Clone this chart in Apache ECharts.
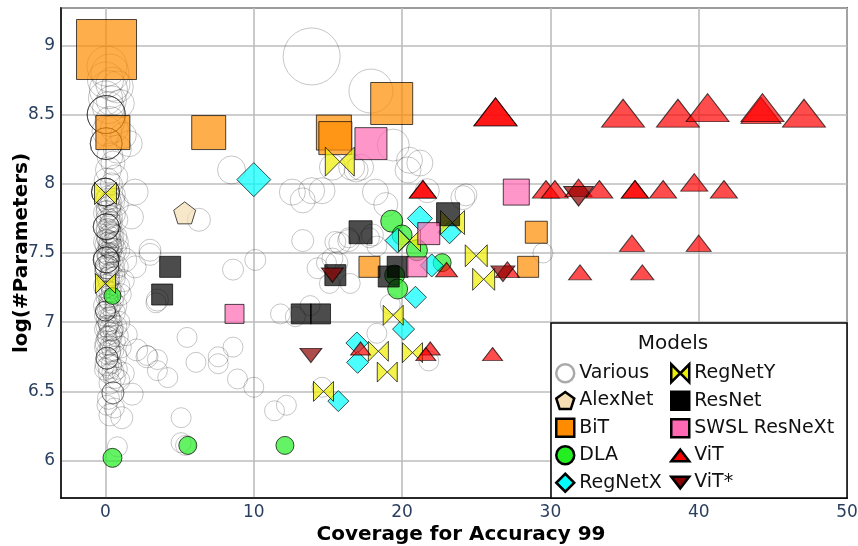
<!DOCTYPE html>
<html>
<head>
<meta charset="utf-8">
<script src="https://cdn.jsdelivr.net/npm/echarts@6/dist/echarts.min.js"></script>
<style>html,body{margin:0;padding:0;background:#fff}#c{width:858px;height:546px}</style>
</head>
<body>
<div id="c"></div>
<script>
// ---- data: [coverage, log(#params), marker size] ----
const various = [
 [0.1,8.85,40],[0.3,8.8,38],[0,8.75,36],[0.5,8.72,34],[0.2,8.68,38],[0.8,8.7,32],[0,8.62,34],[0.4,8.6,30],[1.0,8.58,28],[0.2,8.55,32],
 [0.05,8.5,38],[0.05,8.5,38],[0.05,8.5,38],[0.05,8.5,38],[0.05,8.5,38],
 [0.3,8.45,30],[0.6,8.4,28],[1.2,8.35,26],[0.1,8.38,30],
 [0.05,8.29,32],[0.05,8.29,32],[0.05,8.29,32],[0.05,8.29,32],[0.05,8.29,32],
 [0.8,8.25,28],[1.6,8.29,26],[0.3,8.2,26],[0.5,8.15,24],[0.2,8.1,26],[0.7,8.05,24],[0.1,8.02,26],[0.4,8.0,22],
 [0,7.94,28],[0,7.94,28],[0,7.94,28],[0,7.94,28],[0,7.94,28],[0,7.94,28],
 [2.0,7.94,26],[1.75,7.76,24],[0.5,7.88,24],[0.8,7.85,22],[0.2,7.82,24],[0.6,7.78,22],[0.1,7.75,22],[0.4,7.72,22],
 [0.05,7.69,26],[0.05,7.69,26],[0.05,7.69,26],[0.05,7.69,26],[0.05,7.69,26],
 [0.3,7.65,22],[0.7,7.62,22],[0.1,7.6,20],[0.5,7.57,22],[0.2,7.54,20],[0.9,7.52,22],[0.4,7.5,20],[3.0,7.52,22],[2.0,7.4,22],[1.3,7.45,24],[0.6,7.47,20],
 [0.05,7.45,26],[0.05,7.45,26],[0.05,7.45,26],[0.05,7.45,26],[0.05,7.45,26],[0.1,7.4,24],[0.1,7.4,24],[0.1,7.4,24],
 [0.3,7.36,20],[0.6,7.32,22],[1.2,7.3,22],[0.2,7.28,20],[0.4,7.24,20],[1.0,7.2,22],[0.2,7.16,20],[3.5,7.16,22],[0.7,7.12,22],
 [0,7.08,20],[0,7.08,20],[0,7.08,20],[0,7.08,20],
 [0.3,7.04,20],[0.9,7.0,22],[0.2,6.98,20],[1.4,6.91,22],[0.5,6.94,20],[0.1,6.9,20],[0.6,6.86,22],[0.3,6.83,20],[1.0,6.82,22],[2.1,6.8,22],[2.8,6.75,22],
 [0.1,6.74,22],[0.1,6.74,22],[0.1,6.74,22],[0.1,6.74,22],
 [0.4,6.7,20],[0.8,6.66,20],[0.2,6.63,20],[0.6,6.6,22],[1.2,6.63,22],
 [0.5,6.49,22],[0.5,6.49,22],[0.5,6.49,22],[1.8,6.48,22],[0.2,6.45,22],[0.1,6.4,20],[0.6,6.38,20],[1.1,6.31,22],[0.3,6.33,22],[0.8,6.1,20],
 [0.2,7.9,24],[0.6,7.92,22],[0.3,7.86,24],[0.1,7.8,22],[0.7,7.74,24],[0.3,7.7,22],[0.2,7.66,24],[0.5,7.63,22],[0.0,7.58,24],[0.8,7.58,22],
 [0.3,7.55,24],[0.1,7.5,22],[0.6,7.52,24],[0.2,7.47,22],[0.4,7.42,24],[0.8,7.4,22],[0.0,7.36,22],[0.5,7.35,24],[0.2,7.32,22],[0.9,7.26,22],
 [0.1,7.22,22],[0.5,7.2,24],[0.3,7.12,22],[0.0,7.12,24],[0.6,7.07,22],[0.2,7.02,24],[0.7,6.97,22],[0.4,6.95,24],[0.0,6.95,22],[0.3,6.89,24],
 [0.8,6.9,22],[0.1,6.85,24],[0.5,6.8,22],[0.2,6.78,24],[0.7,6.75,22],[0.3,6.68,24],[0.0,6.66,22],[0.5,6.64,22],[0.9,6.58,22],[0.3,6.56,22],
 [0.1,7.88,24],[0.3,7.84,22],[0.0,7.79,24],[0.4,7.76,22],[0.2,7.73,24],[0.1,7.67,22],[0.4,7.64,22],[0.2,7.61,24],[0.3,7.58,22],[0.1,7.56,24],
 [0.4,7.53,22],[0.2,7.49,22],[0.0,7.47,24],[0.3,7.43,22],[0.1,7.38,24],[0.4,7.34,22],[0.2,7.3,22],[0.0,7.26,24],[0.3,7.22,22],[0.1,7.18,22],
 [0.4,7.15,24],[0.2,7.1,22],[0.0,7.05,22],[0.3,7.0,24],[0.1,6.97,22],[0.4,6.92,22],[0.2,6.88,24],[0.0,6.82,22],[0.3,6.79,22],[0.1,6.7,24],
 [13.9,8.92,57],[17.9,8.67,44],[8.5,8.1,28],[6.3,7.74,23],[12.6,7.94,26],[13.9,7.95,26],[13.3,7.88,25],[13.3,7.59,22],[3.0,7.49,22],
 [8.6,7.38,21],[10.1,7.45,21],[14.3,7.39,21],[15.3,7.46,21],[15.5,7.58,21],
 [3.4,7.14,20],[5.5,6.89,20],[2.8,6.76,20],[3.5,6.73,20],[3.5,6.65,20],[4.2,6.6,20],[6.1,6.71,20],[7.6,6.75,20],[7.6,6.7,20],[8.6,6.82,20],
 [8.9,6.59,20],[10.0,6.53,20],[5.1,6.31,20],[5.1,6.13,20],[5.4,6.11,20],[11.4,6.36,20],[12.2,6.4,20],[11.8,7.06,20],[12.8,7.04,20],[13.8,7.12,20],
 [15.1,7.28,20],[14.6,6.53,20],
 [19.4,8.28,32],[15.3,8.12,26],[16.6,8.12,26],[17.2,8.12,26],[16.9,8.1,24],[20.5,8.17,26],[21.2,8.15,26],[20.4,8.1,26],[18.2,7.94,26],[18.9,7.85,24],
 [24.1,7.9,24],[21.7,7.95,24],[16.4,7.59,22],[18.0,7.63,22],[15.6,7.43,22],[14.6,7.95,26],
 [29.5,7.5,20],[24.3,7.92,22],[18.3,6.92,20],[19.2,7.13,20],[21.8,6.72,20],[16.5,7.28,20],[15.8,7.57,22],[14.9,7.43,20],[16.4,7.61,20],[17.8,7.61,20],[18.3,7.55,20]
];
const alexnet = [[5.34,7.79,22]];
const bit = [[0.07,8.97,60],[0.5,8.37,34],[6.96,8.37,34],[19.3,8.58,42],[15.4,8.37,35],[15.5,8.33,33],[17.8,7.4,21],[29.05,7.65,22],[28.5,7.4,21]];
const dla = [[0.47,6.02,19],[0.47,7.19,17],[5.55,6.11,18],[12.1,6.11,18],[19.3,7.73,22],[20.0,7.63,20],[21.0,7.52,21],[22.7,7.43,18],[19.5,7.34,20],[19.7,7.24,20]];
const regnetx = [[10.0,8.03,34],[21.2,7.75,25],[19.7,7.59,25],[23.2,7.65,23],[22.0,7.41,23],[20.9,7.18,22],[20.1,6.95,22],[16.95,6.85,22],[17.0,6.71,22],[15.7,6.43,21]];
const regnety = [[0,7.93,22],[0,7.28,20],[15.8,8.16,29],[23.4,7.72,24],[20.5,7.59,22],[25.0,7.48,22],[25.5,7.31,22],[19.4,7.05,20],[18.4,6.79,20],[20.7,6.78,20],[19.0,6.64,20],[14.7,6.5,20]];
const resnet = [[4.36,7.4,21],[3.82,7.2,21],[17.2,7.65,23],[23.1,7.78,23],[15.5,7.34,21],[19.7,7.4,21],[19.1,7.33,21],[13.2,7.06,20],[14.5,7.06,20]];
const swsl = [[17.9,8.29,32],[27.7,7.94,26],[21.8,7.64,22],[21.0,7.4,20],[8.7,7.06,19]];
const vit = [
 [26.3,8.52,43],[26.3,8.52,43],[34.9,8.51,43],[38.6,8.51,43],[40.6,8.55,43],[44.2,8.53,40],[44.3,8.55,43],[47.1,8.51,43],
 [21.4,7.96,27],[21.4,7.96,27],[29.7,7.96,27],[30.3,7.96,27],[31.9,7.97,27],[33.3,7.96,27],[35.7,7.96,27],[35.7,7.96,27],[37.6,7.96,27],[39.7,8.01,27],[41.7,7.96,27],
 [35.5,7.57,25],[40.0,7.57,25],
 [32.0,7.36,23],[36.2,7.36,23],[23.0,7.38,22],[27.1,7.38,24],
 [17.2,6.81,20],[21.9,6.81,20],[21.6,6.77,20],[26.1,6.77,20]
];
const vitStar = [[15.3,7.34,22],[13.85,6.76,22],[31.9,7.91,30],[26.8,7.35,24]];

const xTickRange = {min: -3, max: 50};
const yTickRange = {min: 5.73, max: 9.27};

// ---- symbols ----
const PENTA = 'path://M10,0 L19.51,6.91 L15.88,18.09 L4.12,18.09 L0.49,6.91 Z';
const BOWTIE = 'path://M0,0 L10,10 L0,20 Z M20,0 L10,10 L20,20 Z';
const TRI_UP = 'path://M0,13 L10,0 L20,13 Z';
const TRI_DN = 'path://M0,0 L20,0 L10,13 Z';

const FONT = 'DejaVu Sans';
const sz = v => v[2];
const szTri = v => [v[2], v[2] * 0.65];

function mk(name, data, symbol, color, sizeFn) {
  return {
    name, type: 'scatter', data, symbol,
    symbolSize: sizeFn || sz,
    itemStyle: {color, borderColor: '#000', borderWidth: 1, opacity: 0.7},
    emphasis: {disabled: true},
    z: 3
  };
}

const chart = echarts.init(document.getElementById('c'), null, {renderer: 'canvas'});
const legItem = (name, icon, color, border) => ({
  name, icon,
  itemStyle: {color, borderColor: border || '#000', borderWidth: 2.5, opacity: 1}
});
const legendCommon = {
  orient: 'vertical', selectedMode: false, itemWidth: 18, itemHeight: 18, itemGap: 7, padding: 0,
  textStyle: {fontFamily: FONT, fontSize: 19, color: '#111', lineHeight: 20, padding: [0,0,0,0]},
  z: 60, zlevel: 0
};

chart.setOption({
  animation: false,
  backgroundColor: '#fff',
  grid: {left: 61, right: 11, top: 8, bottom: 48, containLabel: false, outerBoundsMode: 'none',
         show: true, borderColor: '#000', borderWidth: 1.5, backgroundColor: 'rgba(0,0,0,0)'},
  xAxis: {
    type: 'value', min: xTickRange.min, max: xTickRange.max, splitNumber: 5,
    name: 'Coverage for Accuracy 99', nameLocation: 'middle', nameGap: 27, nameMoveOverlap: false,
    nameTextStyle: {fontFamily: FONT, fontSize: 20, fontWeight: 'bold', color: '#000', padding: [0,0,0,14]},
    axisLine: {show: true, onZero: false, lineStyle: {color: '#000', width: 1.5}},
    axisTick: {show: false},
    axisLabel: {showMinLabel: false, fontFamily: FONT, fontSize: 17, color: '#2a3f5f', margin: 6},
    splitLine: {show: true, lineStyle: {color: '#bdbdbd', width: 1.6}}
  },
  yAxis: {
    type: 'value', min: yTickRange.min, max: yTickRange.max, splitNumber: 7,
    name: 'log(#Parameters)', nameLocation: 'middle', nameGap: 29, nameMoveOverlap: false,
    nameTextStyle: {fontFamily: FONT, fontSize: 20, fontWeight: 'bold', color: '#000'},
    axisLine: {show: true, onZero: false, lineStyle: {color: '#000', width: 1.5}},
    axisTick: {show: false},
    axisLabel: {showMinLabel: false, showMaxLabel: false, fontFamily: FONT, fontSize: 17, color: '#2a3f5f', margin: 6},
    splitLine: {show: true, lineStyle: {color: '#bdbdbd', width: 1.6}}
  },
  legend: [
    Object.assign({left: 555, top: 363, data: [
      legItem('Various', 'circle', '#fff', '#aaaaaa'),
      legItem('AlexNet', PENTA, '#f5deb3'),
      legItem('BiT', 'rect', '#ff8c00'),
      legItem('DLA', 'circle', '#22ee22'),
      legItem('RegNetX', 'diamond', '#00ffff')
    ]}, legendCommon),
    Object.assign({left: 670, top: 363, data: [
      legItem('RegNetY', BOWTIE, '#eeee00'),
      legItem('ResNet', 'rect', '#000000'),
      legItem('SWSL ResNeXt', 'rect', '#ff69b4'),
      legItem('ViT', TRI_UP, '#ff0000'),
      legItem('ViT*', TRI_DN, '#8b0000')
    ]}, legendCommon)
  ],
  graphic: [
    {type: 'rect', z: 50, shape: {x: 551, y: 323, width: 296, height: 175},
     style: {fill: '#fff', stroke: '#000', lineWidth: 1.5}},
    {type: 'text', z: 51, x: 673, y: 344,
     style: {text: 'Models', fontFamily: FONT, fontSize: 20, fill: '#111', textAlign: 'center', textVerticalAlign: 'middle'}}
  ],
  series: [
    {
      name: 'Various', type: 'scatter', data: various, symbol: 'circle', symbolSize: sz,
      itemStyle: {color: 'rgba(255,255,255,0)', borderColor: 'rgba(0,0,0,0.28)', borderWidth: 1},
      emphasis: {disabled: true}, z: 2
    },
    mk('AlexNet', alexnet, PENTA, '#f5deb3'),
    mk('BiT', bit, 'rect', '#ff8c00'),
    mk('DLA', dla, 'circle', '#22ee22'),
    mk('RegNetX', regnetx, 'diamond', '#00ffff'),
    mk('RegNetY', regnety, BOWTIE, '#eeee00'),
    mk('ResNet', resnet, 'rect', '#000000'),
    mk('SWSL ResNeXt', swsl, 'rect', '#ff69b4'),
    mk('ViT', vit, 'triangle', '#ff0000', szTri),
    mk('ViT*', vitStar, TRI_DN, '#8b0000', szTri)
  ]
});
</script>
</body>
</html>
